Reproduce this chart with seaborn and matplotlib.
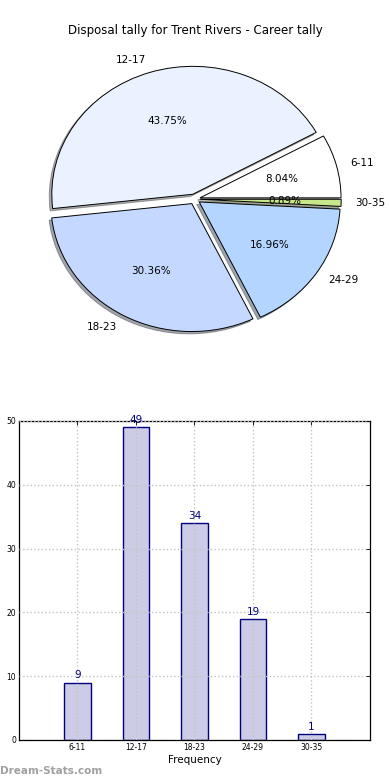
import matplotlib
matplotlib.use("Agg")
import matplotlib.pyplot as plt
import seaborn as sns

# data
AGE_BANDS = ["6-11", "12-17", "18-23", "24-29", "30-35"]
COUNTS = [9, 49, 34, 19, 1]
PIE_COLORS = ["#ffffff", "#eaf1ff", "#c5d8ff", "#b3d5ff", "#c8e68a"]
Y_TICKS = [0, 10, 20, 30, 40, 50]

TITLE = "Disposal tally for Trent Rivers - Career tally"
BAR_FACE, BAR_EDGE = "#ccccE6", "#000080"

sns.set_style("white")
plt.rcParams["font.family"] = ["DejaVu Sans"]
plt.rcParams.update({"text.color": "black", "xtick.color": "black",
                     "ytick.color": "black", "axes.labelcolor": "black"})

fig = plt.figure(figsize=(3.9, 7.8), dpi=100)

# ---- pie ----
ax1 = fig.add_axes([0.0468, 0.5397, 0.904, 0.410])
ax1.pie(COUNTS, labels=AGE_BANDS, colors=PIE_COLORS, explode=[0.04] * len(COUNTS),
        autopct="%1.2f%%", startangle=0,
        shadow={"ox": -0.013, "oy": -0.013, "shade": 0.65},
        wedgeprops={"edgecolor": "black", "linewidth": 0.7},
        textprops={"fontsize": 7.5, "color": "black"})
ax1.set_aspect("auto")
ax1.set_xlim(-1.25, 1.25)
ax1.set_ylim(-1.25, 1.25)
fig.text(0.5, 0.961, TITLE, ha="center", va="center", fontsize=8.5)

# ---- bars ----
ax2 = fig.add_axes([0.0487, 0.0513, 0.9, 0.409])
sns.barplot(x=AGE_BANDS, y=COUNTS, ax=ax2, color=BAR_FACE, saturation=1,
            width=0.45, edgecolor=BAR_EDGE, linewidth=1)
ax2.set_xlim(-1, len(AGE_BANDS))
ax2.set_ylim(0, 50)
ax2.set_yticks(Y_TICKS)
ax2.bar_label(ax2.containers[0], color=BAR_EDGE, fontsize=7.5, padding=1.5)
ax2.grid(True, ls=":", color="#c4c4c4", lw=1.0)
ax2.set_axisbelow(False)
ax2.tick_params(labelsize=5.5, direction="in", top=True, right=True,
                length=3, width=0.6, pad=2)
for s in ax2.spines.values():
    s.set_edgecolor("black")
    s.set_linewidth(0.9)
ax2.set_xlabel("Frequency", fontsize=7.5, labelpad=2)
ax2.set_ylabel("")

fig.text(0.0, 0.012, "Dream-Stats.com", fontsize=7.5, fontweight="bold",
         color="#a0a0a0", ha="left", va="center")

fig.savefig("out.png", dpi=100, facecolor="white")
